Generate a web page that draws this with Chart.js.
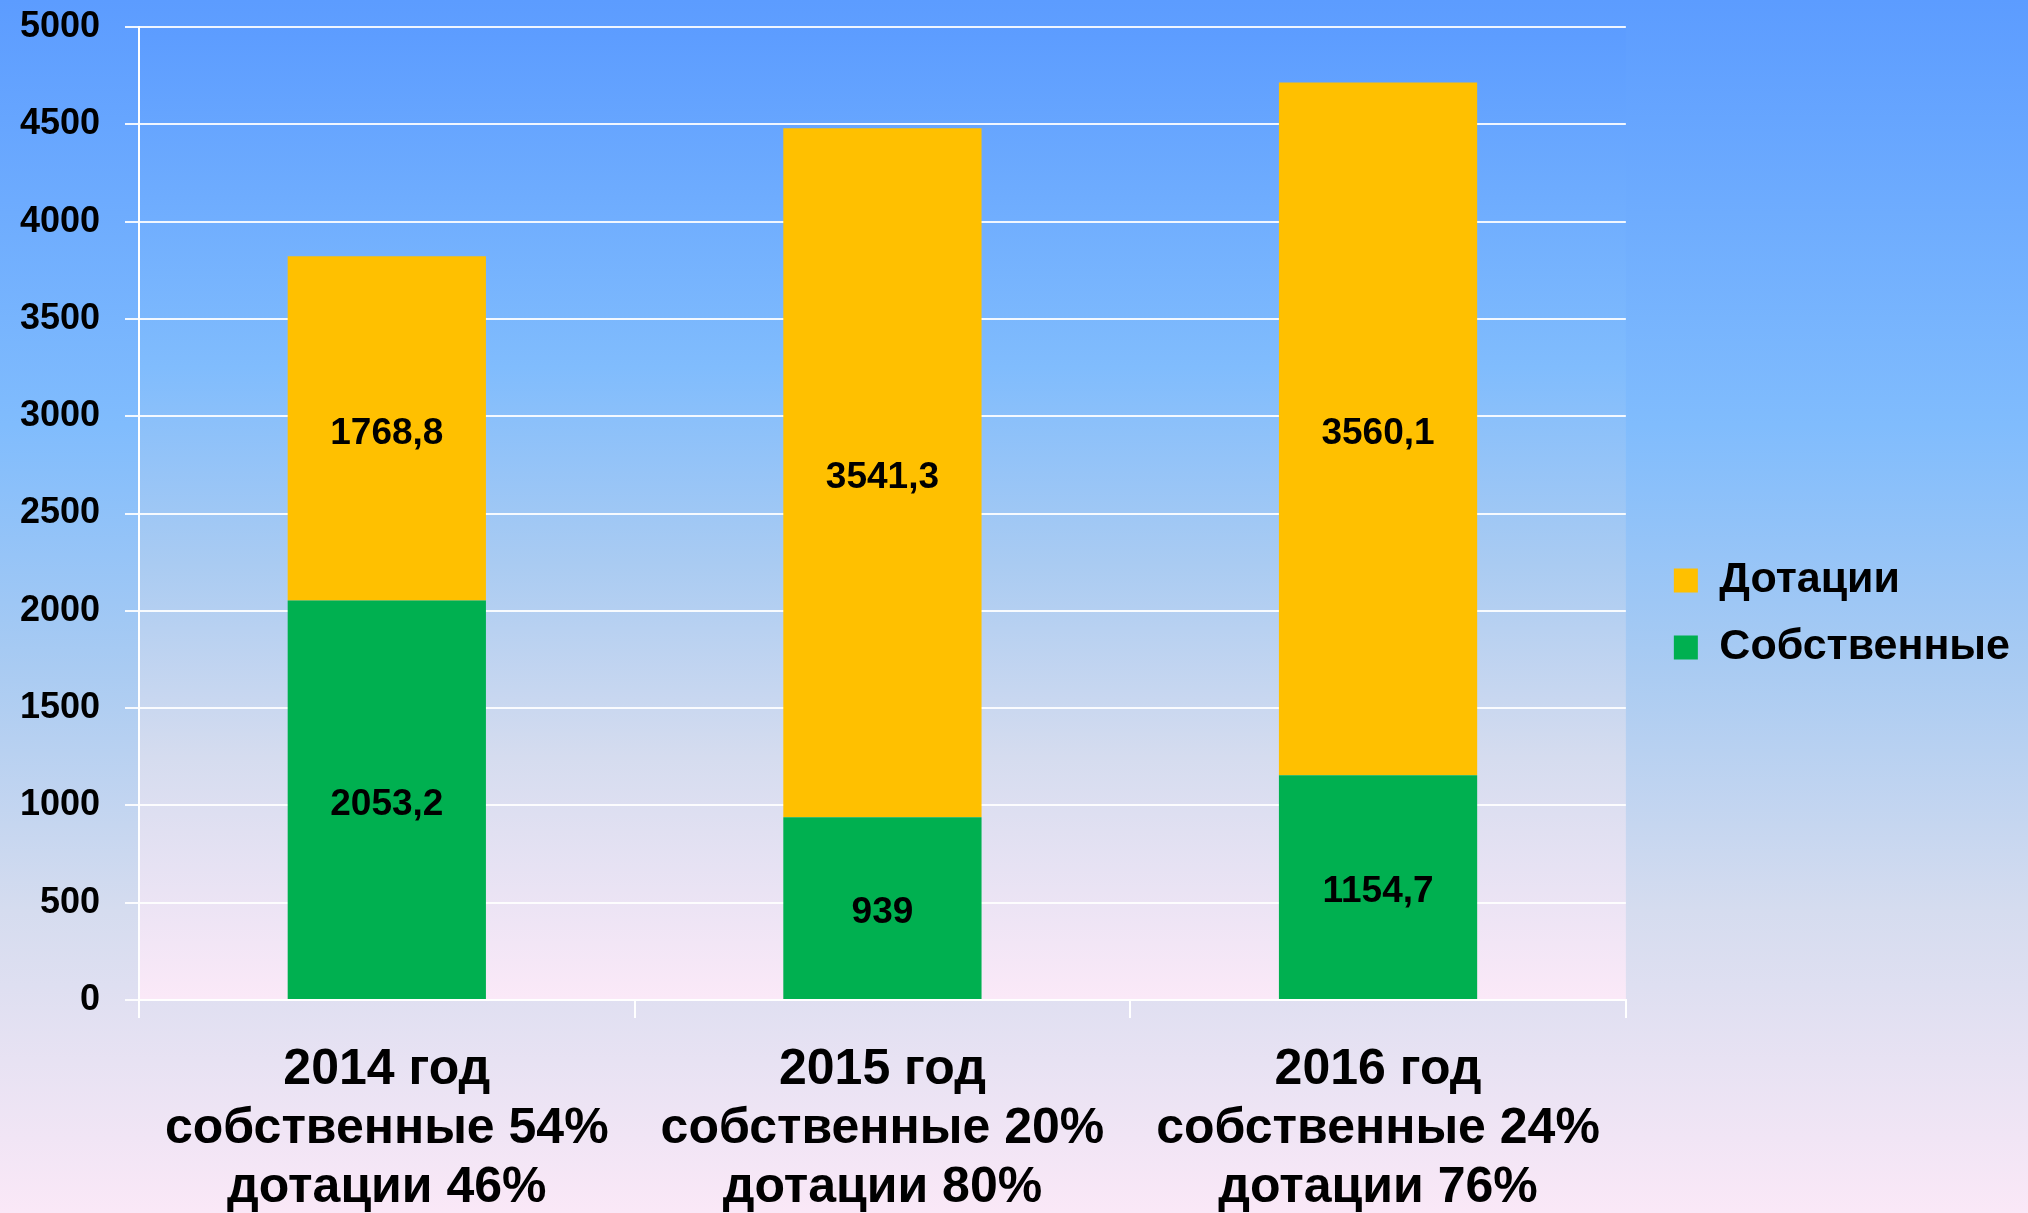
<!DOCTYPE html>
<html>
<head>
<meta charset="utf-8">
<script src="https://cdn.jsdelivr.net/npm/chart.js@4.4.1/dist/chart.umd.min.js"></script>
<style>
  html, body { margin: 0; padding: 0; overflow: hidden; }
  body {
    width: 2028px; height: 1213px;
    background: linear-gradient(to bottom, #5c9cff 0%, #80bcfd 35%, #a9cbf2 55%, #d5dcef 75%, #fae8f7 100%);
  }
  #wrap { width: 2028px; height: 1213px; }
</style>
</head>
<body>
<div id="wrap"><canvas id="myChart"></canvas></div>
<script>
const years = ["2014 год", "2015 год", "2016 год"];
const ownShare = [54, 20, 24];
const subsidyShare = [46, 80, 76];
const ownValues = [2053.2, 939, 1154.7];
const subsidyValues = [1768.8, 3541.3, 3560.1];
const yMax = 5000;
const yStep = 500;

const labels = years.map((y, i) => [
  y,
  "собственные " + ownShare[i] + "%",
  "дотации " + subsidyShare[i] + "%",
]);

const gradStops = [
  [0, "#5c9cff"],
  [0.35, "#80bcfd"],
  [0.55, "#a9cbf2"],
  [0.75, "#d5dcef"],
  [1, "#fbe9f8"],
];

// plot area background
const plotBg = {
  id: "plotBg",
  beforeDraw(chart) {
    const { ctx, chartArea: a } = chart;
    const g = ctx.createLinearGradient(0, a.top, 0, a.bottom);
    gradStops.forEach(([p, c]) => g.addColorStop(p, c));
    ctx.save();
    ctx.fillStyle = g;
    ctx.fillRect(a.left, a.top, a.right - a.left, a.bottom - a.top);
    ctx.restore();
  },
};

// values in the middle of each segment
const barLabels = {
  id: "barLabels",
  afterDatasetsDraw(chart) {
    const ctx = chart.ctx;
    ctx.save();
    ctx.font = "bold 37px 'Liberation Sans'";
    ctx.fillStyle = "#000";
    ctx.textAlign = "center";
    ctx.textBaseline = "middle";
    chart.data.datasets.forEach((ds, i) => {
      chart.getDatasetMeta(i).data.forEach((bar, j) => {
        const txt = String(ds.data[j]).replace(".", ",");
        ctx.fillText(txt, bar.x, (bar.y + bar.base) / 2 + 5);
      });
    });
    ctx.restore();
  },
};

// leave a gap between the plot and the legend items
const legendGap = {
  id: "legendGap",
  afterInit(chart) {
    const lg = chart.legend;
    const fit = lg.fit.bind(lg);
    const draw = lg.draw.bind(lg);
    lg.fit = function () {
      fit();
      this.width += 32;
    };
    lg.draw = function () {
      this.ctx.save();
      this.ctx.translate(24, -6);
      draw();
      this.ctx.restore();
    };
  },
};

const ctx = document.getElementById("myChart");
const chart = new Chart(ctx, {
  type: "bar",
  data: {
    labels: labels,
    datasets: [
      {
        label: "Собственные",
        data: ownValues,
        backgroundColor: "#00b050",
        barPercentage: 0.4,
        categoryPercentage: 1,
      },
      {
        label: "Дотации",
        data: subsidyValues,
        backgroundColor: "#ffc000",
        barPercentage: 0.4,
        categoryPercentage: 1,
      },
    ],
  },
  options: {
    responsive: true,
    maintainAspectRatio: false,
    animation: false,
    layout: { padding: { left: 0, top: 27, right: 0, bottom: 0 } },
    plugins: {
      tooltip: { enabled: false },
      legend: {
        position: "right",
        reverse: true,
        labels: {
          boxWidth: 24,
          boxHeight: 24,
          padding: 24,
          color: "#000",
          font: { family: "'Liberation Sans'", size: 43, weight: "bold" },
        },
      },
    },
    scales: {
      x: {
        stacked: true,
        offset: true,
        border: { display: true, color: "#ffffff", width: 2 },
        grid: {
          offset: true,
          drawOnChartArea: false,
          drawTicks: true,
          tickLength: 18,
          color: "#ffffff",
          lineWidth: 2,
        },
        ticks: {
          color: "#000",
          padding: 23,
          maxRotation: 0,
          font: { family: "'Liberation Sans'", size: 50, weight: "bold", lineHeight: 1.18 },
        },
        afterFit(s) { s.height = 213; },
      },
      y: {
        stacked: true,
        min: 0,
        max: yMax,
        border: { display: true, color: "#ffffff", width: 2 },
        grid: {
          color: "rgba(255,255,255,0.9)",
          lineWidth: 2,
          drawTicks: true,
          tickLength: 14,
        },
        ticks: {
          stepSize: yStep,
          color: "#000",
          padding: 25,
          callback: (v) => String(v),
          font: { family: "'Liberation Sans'", size: 36, weight: "bold" },
        },
        afterFit(s) {
          s.width = 139;
          s.paddingTop = 0;
          s.paddingBottom = 0;
        },
      },
    },
  },
  plugins: [plotBg, barLabels, legendGap],
});
</script>
</body>
</html>
